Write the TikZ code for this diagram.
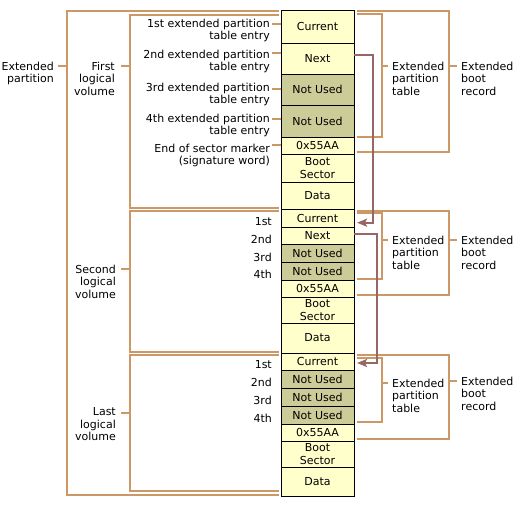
\documentclass[tikz,border=0pt]{standalone}
\usepackage{fontspec}
\setmainfont{DejaVu Sans}
\usetikzlibrary{arrows.meta}
\definecolor{cellyellow}{HTML}{FFFFCC}
\definecolor{unusedolive}{HTML}{CCCC99}
\definecolor{brackettan}{HTML}{CC9966}
\definecolor{ptrmauve}{HTML}{996666}

\begin{document}
\begin{tikzpicture}[x=1pt,y=-1pt,font=\fontsize{11}{12.5}\selectfont,
  cell/.style={rectangle,draw,fill=cellyellow,line width=1pt,minimum width=73pt,
    inner sep=0pt,outer sep=0pt,anchor=north,align=center},
  unused/.style={cell,fill=unusedolive},
  bracket/.style={draw=brackettan,line width=2pt},
  ptr/.style={draw=ptrmauve,line width=2pt,-{Stealth[length=10pt,width=8pt,inset=2pt]}},
  lab/.style={inner sep=0pt}]
\useasboundingbox (0,0) rectangle (518,506);

% first logical volume
\node[cell,minimum height=33pt] (cur1) at (317.5,10) {Current};
\node[cell,minimum height=31pt] (next1) at (317.5,43) {Next};
\node[unused,minimum height=31pt] (nu1a) at (317.5,74) {Not Used};
\node[unused,minimum height=32pt] (nu1b) at (317.5,105) {Not Used};
\node[cell,minimum height=17pt] (sig1) at (317.5,137) {0x55AA};
\node[cell,minimum height=28pt] (boot1) at (317.5,154) {Boot\\Sector};
\node[cell,minimum height=27pt] (data1) at (317.5,182) {Data};

% second logical volume
\node[cell,minimum height=18pt] (cur2) at (317.5,209) {Current};
\node[cell,minimum height=17pt] (next2) at (317.5,227) {Next};
\node[unused,minimum height=18pt] (nu2a) at (317.5,244) {Not Used};
\node[unused,minimum height=18pt] (nu2b) at (317.5,262) {Not Used};
\node[cell,minimum height=17pt] (sig2) at (317.5,280) {0x55AA};
\node[cell,minimum height=26pt] (boot2) at (317.5,297) {Boot\\Sector};
\node[cell,minimum height=30pt] (data2) at (317.5,323) {Data};

% last logical volume
\node[cell,minimum height=17pt] (cur3) at (317.5,353) {Current};
\node[unused,minimum height=18pt] (nu3a) at (317.5,370) {Not Used};
\node[unused,minimum height=18pt] (nu3b) at (317.5,388) {Not Used};
\node[unused,minimum height=18pt] (nu3c) at (317.5,406) {Not Used};
\node[cell,minimum height=17pt] (sig3) at (317.5,424) {0x55AA};
\node[cell,minimum height=26pt] (boot3) at (317.5,441) {Boot\\Sector};
\node[cell,minimum height=29pt] (data3) at (317.5,467) {Data};

% left labels
\node[lab,anchor=north east,align=right] (extpart) at (54,61.7) {Extended\\partition};
\node[lab,anchor=north east,align=right] (firstvol) at (115,61.7) {First\\logical\\volume};
\node[lab,anchor=north east,align=right] (secondvol) at (116,264.7) {Second\\logical\\volume};
\node[lab,anchor=north east,align=right] (lastvol) at (116,407.7) {Last\\logical\\volume};

\node[lab,anchor=north east,align=right] (ent1) at (270,18.7) {1st extended partition\\table entry};
\node[lab,anchor=north east,align=right] (ent2) at (270,49.7) {2nd extended partition\\table entry};
\node[lab,anchor=north east,align=right] (ent3) at (270,82.7) {3rd extended partition\\table entry};
\node[lab,anchor=north east,align=right] (ent4) at (270,113.7) {4th extended partition\\table entry};
\node[lab,anchor=north east,align=right] (eos) at (270,143.7) {End of sector marker\\(signature word)};

\node[lab,anchor=east] (ent21) at (272,222) {1st};
\node[lab,anchor=east] (ent22) at (272,239) {2nd};
\node[lab,anchor=east] (ent23) at (272,257) {3rd};
\node[lab,anchor=east] (ent24) at (272,274) {4th};
\node[lab,anchor=east] (ent31) at (272,365) {1st};
\node[lab,anchor=east] (ent32) at (272,382) {2nd};
\node[lab,anchor=east] (ent33) at (272,400) {3rd};
\node[lab,anchor=east] (ent34) at (272,418) {4th};

% right labels
\node[lab,anchor=north west,align=left] (ept1) at (392,61.7) {Extended\\partition\\table};
\node[lab,anchor=north west,align=left] (ebr1) at (461,61.7) {Extended\\boot\\record};
\node[lab,anchor=north west,align=left] (ept2) at (392,235.7) {Extended\\partition\\table};
\node[lab,anchor=north west,align=left] (ebr2) at (461,235.7) {Extended\\boot\\record};
\node[lab,anchor=north west,align=left] (ept3) at (392,378.7) {Extended\\partition\\table};
\node[lab,anchor=north west,align=left] (ebr3) at (461,376.7) {Extended\\boot\\record};

% left brackets
\draw[bracket] (279,11) -- (67,11) -- (67,495) -- (279,495);
\draw[bracket] (58,66) -- (67,66);
\draw[bracket] (279,15) -- (130,15) -- (130,208) -- (279,208);
\draw[bracket] (121,66) -- (130,66);
\draw[bracket] (279,211) -- (130,211) -- (130,352) -- (279,352);
\draw[bracket] (121,269) -- (130,269);
\draw[bracket] (279,355) -- (130,355) -- (130,491) -- (279,491);
\draw[bracket] (121,413) -- (130,413);
\draw[bracket] (272,24) -- (281,24);
\draw[bracket] (272,53) -- (281,53);
\draw[bracket] (272,89) -- (281,89);
\draw[bracket] (272,119) -- (281,119);
\draw[bracket] (272,145) -- (281,145);

% right brackets
\draw[bracket] (357,14) -- (382,14) -- (382,137) -- (357,137);
\draw[bracket] (382,66) -- (388,66);
\draw[bracket] (357,11) -- (449,11) -- (449,152) -- (357,152);
\draw[bracket] (449,66) -- (457,66);
\draw[bracket] (357,213) -- (382,213) -- (382,279) -- (357,279);
\draw[bracket] (382,240) -- (388,240);
\draw[bracket] (357,211) -- (449,211) -- (449,295) -- (357,295);
\draw[bracket] (449,240) -- (457,240);
\draw[bracket] (357,358) -- (382,358) -- (382,422) -- (357,422);
\draw[bracket] (382,383) -- (388,383);
\draw[bracket] (357,355) -- (449,355) -- (449,439) -- (357,439);
\draw[bracket] (449,381) -- (457,381);

% next pointers
\draw[ptr] ([yshift=4pt]next1.east) -- ++(19,0) |- ([xshift=3pt,yshift=-4.7pt]cur2.east);
\draw[ptr] ([yshift=1.5pt]next2.east) -- ++(23,0) |- ([xshift=3pt,yshift=-1.5pt]cur3.east);
\end{tikzpicture}
\end{document}
